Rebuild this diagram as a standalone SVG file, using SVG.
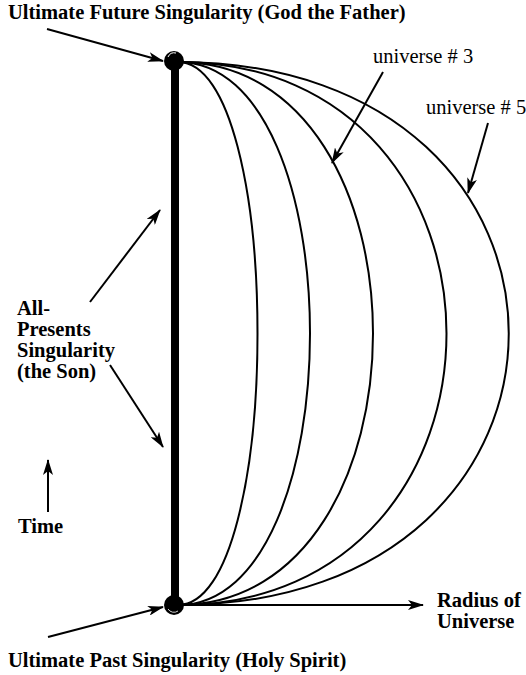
<svg xmlns="http://www.w3.org/2000/svg" width="526" height="675" viewBox="0 0 526 675">
<defs>
<style>
.b{font-family:"Liberation Serif","Times New Roman",serif;font-weight:bold;font-size:20.5px;fill:#000}
.n{font-family:"Liberation Serif","Times New Roman",serif;font-size:20.5px;fill:#000}
.c{fill:none;stroke:#000;stroke-width:2}
.a{fill:none;stroke:#000;stroke-width:2;marker-end:url(#ah)}
</style>
<marker id="ah" viewBox="0 0 16 10" refX="15" refY="5" markerWidth="16" markerHeight="10" markerUnits="userSpaceOnUse" orient="auto">
<path d="M0,0 L16,5 L0,10 L4,5 Z" fill="#000"/>
</marker>
</defs>
<rect width="526" height="675" fill="#fff"/>
<g id="universes">
<path class="c" d="M178,62 C284,62 284,605 178,605"/>
<path class="c" d="M178,62 C354,62 354,605 178,605"/>
<path class="c" d="M178,62 C438,62 438,605 178,605"/>
<path class="c" d="M178,62 C536,62 536,605 178,605"/>
<path class="c" d="M178,62 C619,62 619,605 178,605"/>
</g>
<g id="all-presents-line">
<rect x="171" y="62" width="8" height="543" fill="#000"/>
</g>
<g id="future-singularity">
<circle cx="174" cy="61" r="10" fill="#000"/>
<path d="M168,57 A7,7 0 0 1 176,53" fill="none" stroke="#fff" stroke-width="1"/>
</g>
<g id="past-singularity">
<circle cx="174" cy="605" r="10" fill="#000"/>
<path d="M168,609 A7,7 0 0 0 178,611" fill="none" stroke="#fff" stroke-width="0.8"/>
</g>
<g id="connectors">
<path class="a" d="M47,29 L163,61"/>
<path class="a" d="M48,637 L163,607"/>
<path class="a" d="M90,302 L160,210"/>
<path class="a" d="M110,365 L163,447"/>
<path class="a" d="M48,512 L48,460"/>
<path class="a" d="M383,72 L332,163"/>
<path class="a" d="M488,123 L468,193"/>
<path class="a" d="M180,605 L423,605"/>
</g>
<g id="labels">
<text class="b" x="8" y="19">Ultimate Future Singularity (God the Father)</text>
<text class="n" x="373" y="63">universe # 3</text>
<text class="n" x="426" y="114">universe # 5</text>
<text class="b" x="17" y="315">All-</text>
<text class="b" x="17" y="336">Presents</text>
<text class="b" x="17" y="357">Singularity</text>
<text class="b" x="17" y="378">(the Son)</text>
<text class="b" x="18" y="533">Time</text>
<text class="b" x="437" y="607">Radius of</text>
<text class="b" x="437" y="628">Universe</text>
<text class="b" x="8" y="667">Ultimate Past Singularity (Holy Spirit)</text>
</g>
</svg>
